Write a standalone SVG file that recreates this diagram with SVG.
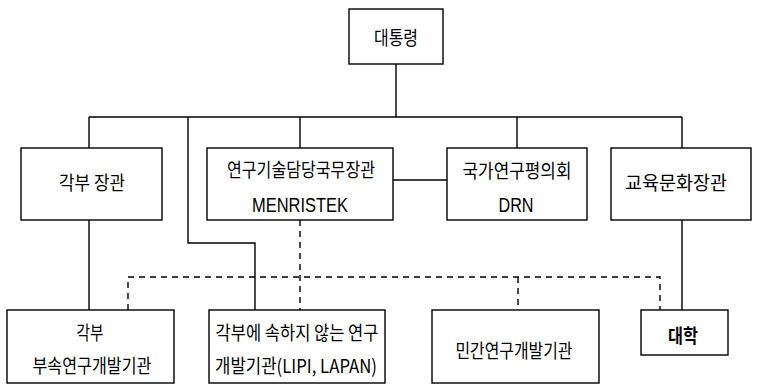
<svg xmlns="http://www.w3.org/2000/svg" width="759" height="390" viewBox="0 0 759 390">
<style>
.box{fill:#fff;stroke:#000;stroke-width:1.4}
.ln{fill:none;stroke:#000;stroke-width:1.4}
.dash{fill:none;stroke:#000;stroke-width:1.4;stroke-dasharray:6 5}
text{font-family:"Noto Sans CJK KR","Liberation Sans",sans-serif;font-size:19px;fill:#000;text-anchor:middle}
.lat{font-family:"Liberation Sans","Noto Sans CJK KR",sans-serif;font-size:21px}
</style>
<rect width="759" height="390" fill="#fff"/>
<g id="connectors">
<path class="ln" d="M396 64V117M89 117H682M89 117V148M188 117V243H255V310M300 117V148M517 117V148M682 117V148"/>
<path class="ln" d="M393 180H447M89 220V310M682 220V310"/>
<path class="dash" d="M300 220V310M128 310V277H660V310M518 277V310"/>
</g>
<g id="president"><rect class="box" x="349" y="9" width="94" height="55"/><text x="396" y="45" textLength="44" lengthAdjust="spacingAndGlyphs">대통령</text></g>
<g id="ministers"><rect class="box" x="21" y="148" width="141" height="72"/><text x="92" y="190" textLength="66" lengthAdjust="spacingAndGlyphs">각부 장관</text></g>
<g id="menristek"><rect class="box" x="207" y="148" width="186" height="72"/><text x="301" y="177" textLength="148" lengthAdjust="spacingAndGlyphs">연구기술담당국무장관</text><text class="lat" x="300" y="212" textLength="96" lengthAdjust="spacingAndGlyphs">MENRISTEK</text></g>
<g id="drn"><rect class="box" x="447" y="148" width="140" height="72"/><text x="517" y="178" textLength="109" lengthAdjust="spacingAndGlyphs">국가연구평의회</text><text class="lat" x="516" y="212" textLength="35" lengthAdjust="spacingAndGlyphs">DRN</text></g>
<g id="education"><rect class="box" x="611" y="148" width="140" height="72"/><text x="676" y="190" textLength="102" lengthAdjust="spacingAndGlyphs">교육문화장관</text></g>
<g id="ministry-rd"><rect class="box" x="7" y="310" width="167" height="73"/><text x="90" y="340" textLength="27" lengthAdjust="spacingAndGlyphs">각부</text><text x="92" y="373" textLength="119" lengthAdjust="spacingAndGlyphs">부속연구개발기관</text></g>
<g id="non-ministry-rd"><rect class="box" x="209" y="310" width="176" height="73"/><text x="297" y="340" textLength="163" lengthAdjust="spacingAndGlyphs">각부에 속하지 않는 연구</text><text x="296" y="373" textLength="162" lengthAdjust="spacingAndGlyphs">개발기관(LIPI, LAPAN)</text></g>
<g id="private-rd"><rect class="box" x="432" y="310" width="167" height="73"/><text x="514" y="358" textLength="117" lengthAdjust="spacingAndGlyphs">민간연구개발기관</text></g>
<g id="university"><rect class="box" x="641" y="310" width="87" height="45"/><text x="683" y="343" font-weight="bold" textLength="30" lengthAdjust="spacingAndGlyphs">대학</text></g>
</svg>
